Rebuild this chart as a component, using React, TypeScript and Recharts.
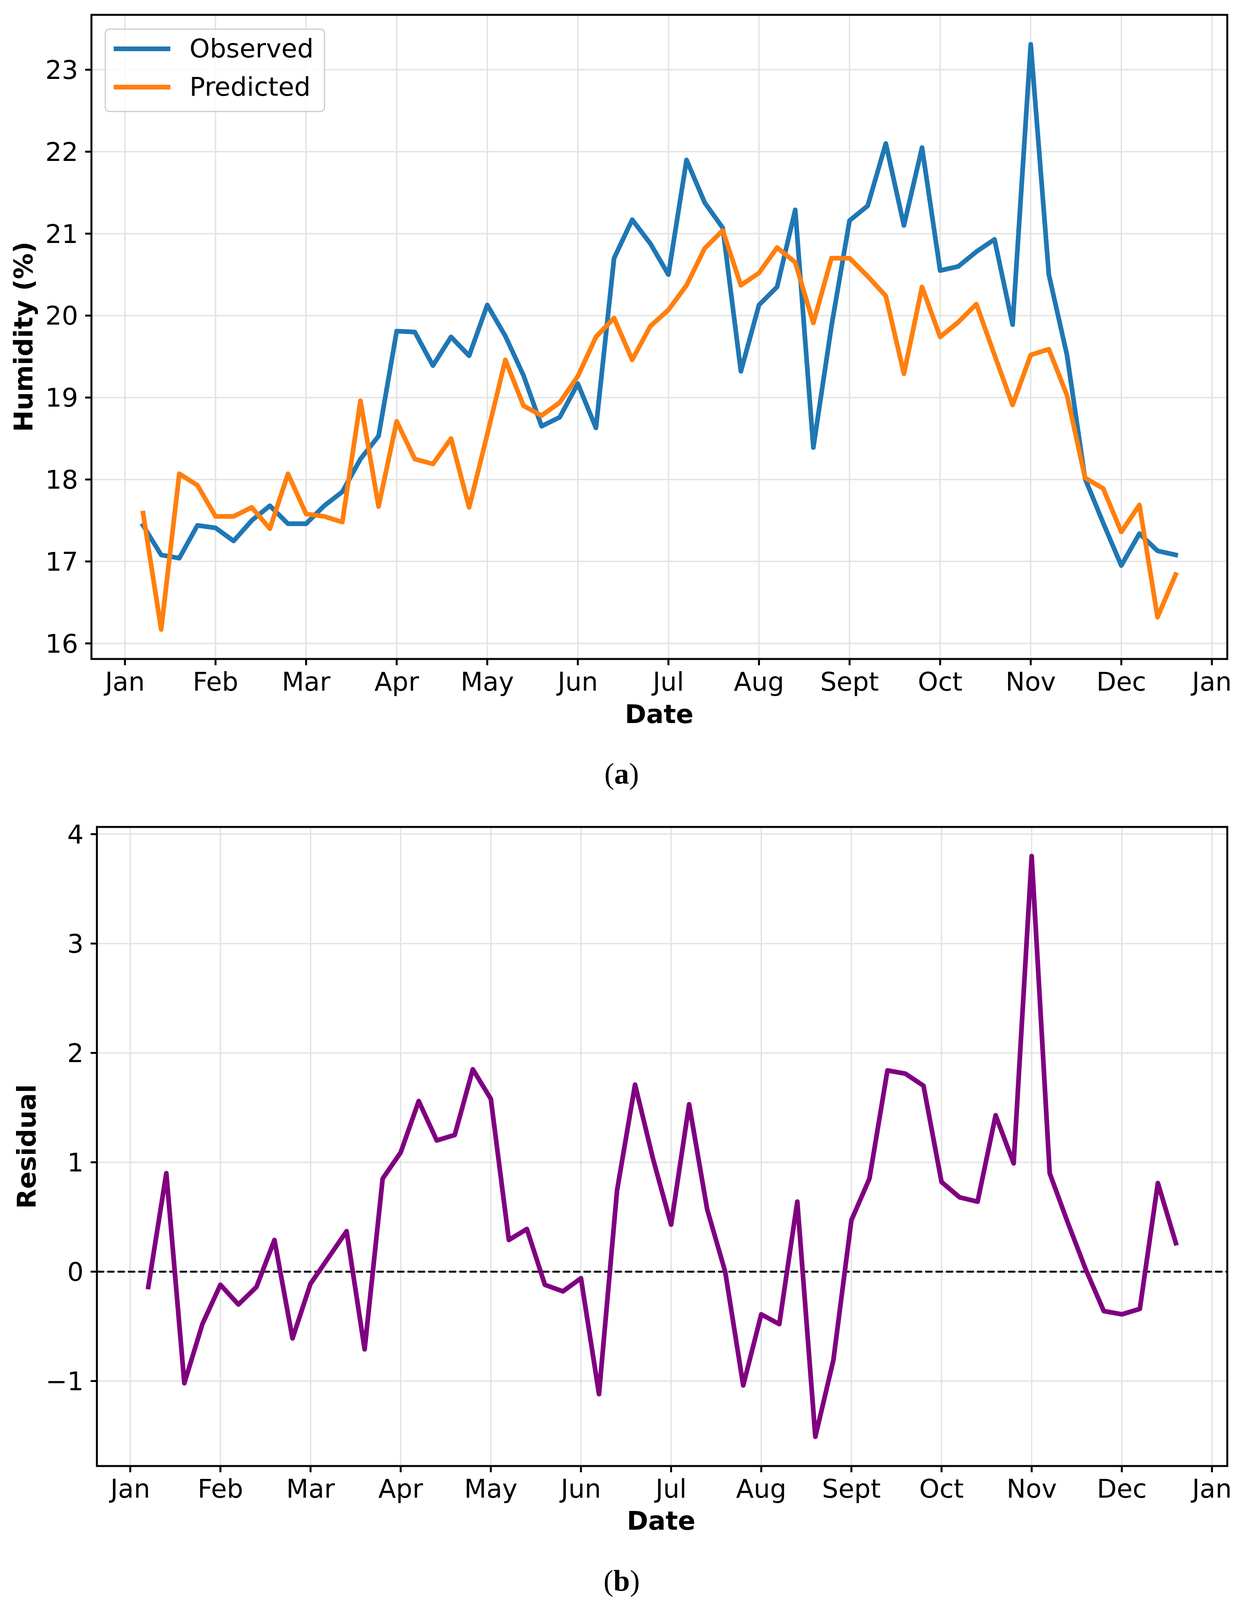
import React from 'react';
import { LineChart, Line, XAxis, YAxis, CartesianGrid, ReferenceLine, ReferenceArea, Legend } from 'recharts';

// month ticks on the x axis (position in months from Jan 1)
const monthTicks = [0, 1, 2, 3, 4, 5, 6, 7, 8, 9, 10, 11, 12];
const monthLabels = ['Jan', 'Feb', 'Mar', 'Apr', 'May', 'Jun', 'Jul', 'Aug', 'Sept', 'Oct', 'Nov', 'Dec', 'Jan'];

// sample positions (months)
const samplePos = [
  0.2, 0.4, 0.6, 0.8, 1.0, 1.2, 1.4, 1.6, 1.8, 2.0,
  2.2, 2.4, 2.6, 2.8, 3.0, 3.2, 3.4, 3.6, 3.8, 4.0,
  4.2, 4.4, 4.6, 4.8, 5.0, 5.2, 5.4, 5.6, 5.8, 6.0,
  6.2, 6.4, 6.6, 6.8, 7.0, 7.2, 7.4, 7.6, 7.8, 8.0,
  8.2, 8.4, 8.6, 8.8, 9.0, 9.2, 9.4, 9.6, 9.8, 10.0,
  10.2, 10.4, 10.6, 10.8, 11.0, 11.2, 11.4, 11.6,
];

const observed = [
  17.44, 17.08, 17.04, 17.44, 17.41, 17.25, 17.5, 17.68, 17.46, 17.46,
  17.68, 17.85, 18.25, 18.53, 19.81, 19.8, 19.39, 19.74, 19.51, 20.13,
  19.75, 19.27, 18.65, 18.76, 19.17, 18.63, 20.7, 21.17, 20.88, 20.5,
  21.9, 21.38, 21.07, 19.32, 20.13, 20.35, 21.29, 18.39, 19.87, 21.16,
  21.34, 22.1, 21.1, 22.05, 20.55, 20.6, 20.78, 20.93, 19.89, 23.31,
  20.5, 19.52, 18.01, 17.47, 16.95, 17.34, 17.13, 17.08,
];

const predicted = [
  17.59, 16.17, 18.07, 17.93, 17.55, 17.55, 17.66, 17.4, 18.07, 17.58,
  17.55, 17.48, 18.96, 17.67, 18.71, 18.25, 18.19, 18.5, 17.66, 18.55,
  19.46, 18.9, 18.78, 18.94, 19.26, 19.74, 19.97, 19.46, 19.87, 20.07,
  20.37, 20.82, 21.04, 20.37, 20.52, 20.83, 20.65, 19.91, 20.7, 20.7,
  20.48, 20.24, 19.29, 20.35, 19.74, 19.92, 20.14, 19.52, 18.91, 19.52,
  19.59, 19.03, 18.02, 17.89, 17.36, 17.69, 16.32, 16.84,
];

const residual = [
  -0.14, 0.9, -1.02, -0.48, -0.12, -0.3, -0.14, 0.29, -0.61, -0.11,
  0.13, 0.37, -0.71, 0.85, 1.09, 1.56, 1.2, 1.25, 1.85, 1.58,
  0.29, 0.39, -0.12, -0.18, -0.06, -1.12, 0.74, 1.71, 1.03, 0.43,
  1.53, 0.57, 0.0, -1.04, -0.39, -0.48, 0.64, -1.51, -0.81, 0.47,
  0.85, 1.84, 1.81, 1.7, 0.82, 0.68, 0.64, 1.43, 0.99, 3.8,
  0.9, 0.45, 0.02, -0.36, -0.39, -0.34, 0.81, 0.26,
];

const humidityTicks = [16, 17, 18, 19, 20, 21, 22, 23];
const residualTicks = [-1, 0, 1, 2, 3, 4];

const X_DOMAIN: [number, number] = [-0.37, 12.17];
const HUM_DOMAIN: [number, number] = [15.81, 23.67];
const RES_DOMAIN: [number, number] = [-1.777, 4.066];

const FONT = 'DejaVu Sans';
const FS = 66;

const humidityRows = samplePos.map((x, i) => ({ x, observed: observed[i], predicted: predicted[i] }));
const residualRows = samplePos.map((x, i) => ({ x, residual: residual[i] }));

const tickStyle = { fontSize: FS, fill: '#000', fontFamily: FONT };
const tickLineStyle = { stroke: '#000', strokeWidth: 5 };
const gridColor = '#e3e3e3';

const fmtMonth = (v: number) => monthLabels[Math.round(v)] ?? '';
const fmtNum = (v: number) => (v < 0 ? `\u2212${Math.abs(v)}` : `${v}`);

const centered = (left: number, top: number, extra: React.CSSProperties = {}): React.CSSProperties => ({
  position: 'absolute',
  left,
  top,
  transform: 'translate(-50%, -50%)',
  whiteSpace: 'nowrap',
  lineHeight: 1,
  ...extra,
});

const axisTitle: React.CSSProperties = { fontFamily: FONT, fontSize: FS, fontWeight: 700, color: '#000' };
const panelTag: React.CSSProperties = { fontFamily: 'Liberation Serif', fontSize: 76, color: '#000' };

const renderLegend = (props: any) => {
  const { payload } = props;
  return (
    <div style={{
      width: 564,
      height: 214,
      boxSizing: 'border-box',
      border: '3px solid #cccccc',
      borderRadius: 12,
      background: 'rgba(255,255,255,0.8)',
    }}>
      {(payload || []).map((entry: any) => (
        <div key={entry.value} style={{ display: 'flex', alignItems: 'center', height: 98 }}>
          <div style={{ width: 145, height: 12, marginLeft: 20, background: entry.color }} />
          <span style={{ marginLeft: 49, fontFamily: FONT, fontSize: FS, color: '#000', lineHeight: 1 }}>{entry.value}</span>
        </div>
      ))}
    </div>
  );
};

const HumidityPanel = () => (
  <LineChart width={3171} height={1900} data={humidityRows} margin={{ top: 38, right: 30, left: 0, bottom: 0 }}>
    <CartesianGrid stroke={gridColor} strokeWidth={3.5} />
    <XAxis
      dataKey="x"
      type="number"
      domain={X_DOMAIN}
      ticks={monthTicks}
      interval={0}
      allowDataOverflow
      tickFormatter={fmtMonth}
      tick={tickStyle}
      tickLine={tickLineStyle}
      tickSize={16}
      tickMargin={18}
      axisLine={false}
      height={213}
    />
    <YAxis
      type="number"
      domain={HUM_DOMAIN}
      ticks={humidityTicks}
      interval={0}
      allowDataOverflow
      tickFormatter={fmtNum}
      tick={tickStyle}
      tickLine={tickLineStyle}
      tickSize={16}
      tickMargin={18}
      axisLine={false}
      width={234}
    />
    <Line type="linear" dataKey="observed" name="Observed" stroke="#1f77b4" strokeWidth={12}
      strokeLinejoin="round" strokeLinecap="square" dot={false} isAnimationActive={false} />
    <Line type="linear" dataKey="predicted" name="Predicted" stroke="#ff7f0e" strokeWidth={12}
      strokeLinejoin="round" strokeLinecap="square" dot={false} isAnimationActive={false} />
    <ReferenceArea x1={X_DOMAIN[0]} x2={X_DOMAIN[1]} y1={HUM_DOMAIN[0]} y2={HUM_DOMAIN[1]}
      fill="none" fillOpacity={0} stroke="#000" strokeWidth={5} ifOverflow="visible" />
    <Legend
      layout="vertical"
      align="center"
      verticalAlign="middle"
      content={renderLegend}
      wrapperStyle={{ left: 268, top: 73, width: 564, height: 214 }}
    />
  </LineChart>
);

const ResidualPanel = () => (
  <LineChart width={3171} height={1900} data={residualRows} margin={{ top: 67, right: 30, left: 0, bottom: 0 }}>
    <CartesianGrid stroke={gridColor} strokeWidth={3.5} />
    <XAxis
      dataKey="x"
      type="number"
      domain={X_DOMAIN}
      ticks={monthTicks}
      interval={0}
      allowDataOverflow
      tickFormatter={fmtMonth}
      tick={tickStyle}
      tickLine={tickLineStyle}
      tickSize={16}
      tickMargin={18}
      axisLine={false}
      height={197}
    />
    <YAxis
      type="number"
      domain={RES_DOMAIN}
      ticks={residualTicks}
      interval={0}
      allowDataOverflow
      tickFormatter={fmtNum}
      tick={tickStyle}
      tickLine={tickLineStyle}
      tickSize={16}
      tickMargin={18}
      axisLine={false}
      width={248}
    />
    <ReferenceLine y={0} stroke="#000" strokeWidth={5} strokeDasharray="18.5 8" />
    <Line type="linear" dataKey="residual" name="Residual" stroke="#800080" strokeWidth={12}
      strokeLinejoin="round" strokeLinecap="square" dot={false} isAnimationActive={false} />
    <ReferenceArea x1={X_DOMAIN[0]} x2={X_DOMAIN[1]} y1={RES_DOMAIN[0]} y2={RES_DOMAIN[1]}
      fill="none" fillOpacity={0} stroke="#000" strokeWidth={5} ifOverflow="visible" />
  </LineChart>
);

export default function App() {
  return (
    <div style={{ position: 'relative', width: 3171, height: 4128, background: '#fff', overflow: 'hidden' }}>
      <style>{'body{margin:0;background:#fff;}'}</style>

      <div style={{ position: 'absolute', left: 0, top: 0 }}>
        <HumidityPanel />
      </div>
      <div style={centered(61, 862, { ...axisTitle, transform: 'translate(-50%, -50%) rotate(-90deg)' })}>Humidity (%)</div>
      <div style={centered(1687, 1829, axisTitle)}>Date</div>
      <div style={centered(1591, 1980, panelTag)}>(<b>a</b>)</div>

      <div style={{ position: 'absolute', left: 0, top: 2050 }}>
        <ResidualPanel />
      </div>
      <div style={centered(69, 2935, { ...axisTitle, transform: 'translate(-50%, -50%) rotate(-90deg)' })}>Residual</div>
      <div style={centered(1692, 3894, axisTitle)}>Date</div>
      <div style={centered(1591, 4046, panelTag)}>(<b>b</b>)</div>
    </div>
  );
}
